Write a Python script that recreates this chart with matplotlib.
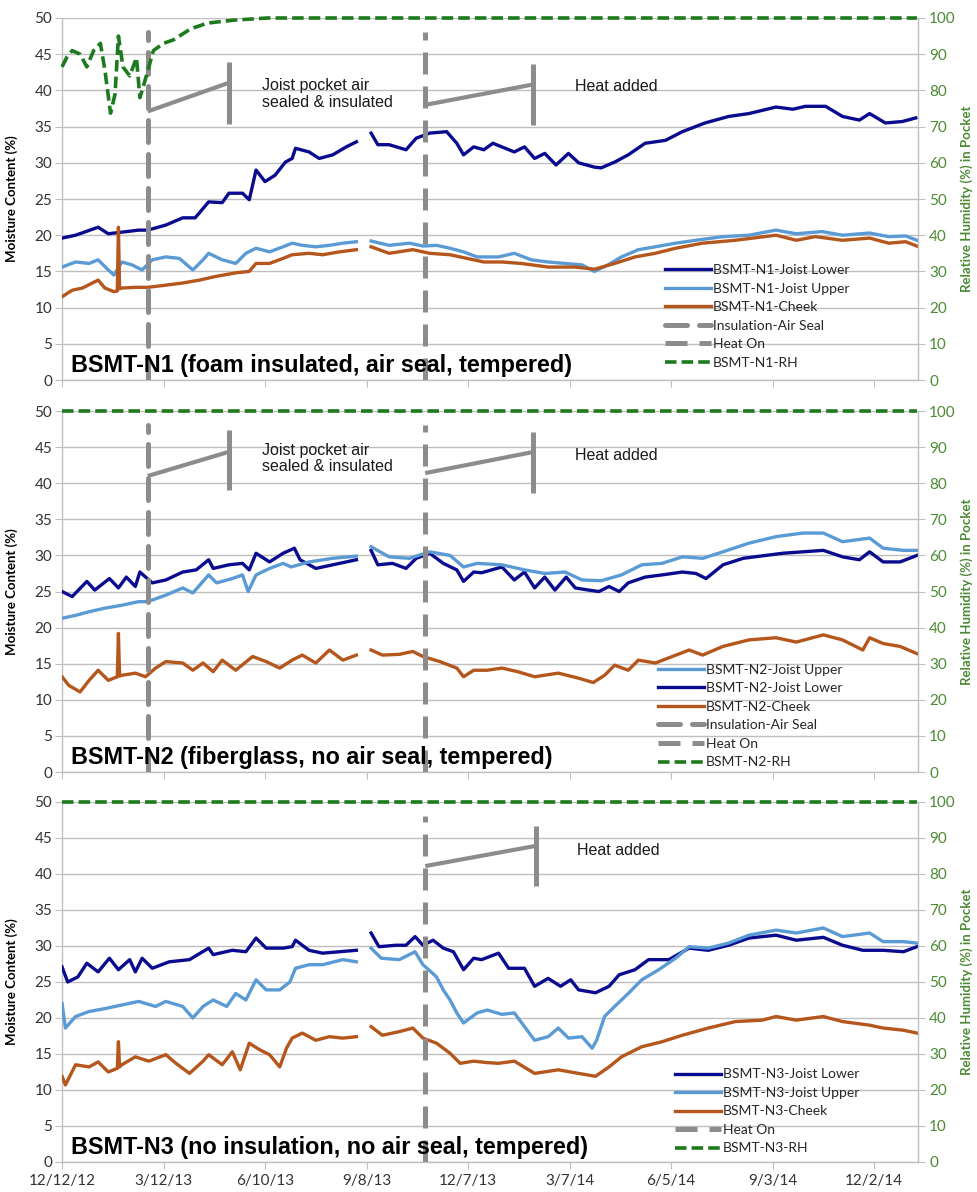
import numpy as np
import matplotlib
matplotlib.use('Agg')
import matplotlib.pyplot as plt
from matplotlib.lines import Line2D

NAN = float('nan')

# ---------------- data (day offset from 12/12/12, moisture content %) ----------------
x_tick_days = [0, 90, 180, 270, 360, 450, 540, 630, 720]
x_tick_labels = ['12/12/12', '3/12/13', '6/10/13', '9/8/13', '12/7/13',
                 '3/7/14', '6/5/14', '9/3/14', '12/2/14']
insulation_day = 76
heat_day = 322

# Panel 1: BSMT-N1
n1_lower_day = [0, 12, 32, 41, 68, 76, 92, 107, 118, 130, 142, 148, 160, 166, 172, 180, 189, 198, 204, 207,
                219, 228, 240, 252, 261, 267, 274, 280, 290, 305, 314, 326, 341, 350, 356, 365, 374, 382,
                401, 410, 419, 428, 438, 449, 458, 472, 478, 490, 502, 517, 535, 550, 570, 591, 609, 633,
                648, 659, 677, 692, 707, 716, 730, 745, 757]
n1_lower_val = [19.6, 20.0, 21.1, 20.2, 20.7, 20.7, 21.4, 22.4, 22.4, 24.6, 24.5, 25.8, 25.8, 24.9, 29.0, 27.4,
                28.3, 30.1, 30.6, 32.0, 31.5, 30.6, 31.1, 32.2, 32.9, NAN, 34.1, 32.5, 32.5, 31.8, 33.4, 34.1,
                34.3, 32.7, 31.1, 32.2, 31.8, 32.7, 31.5, 32.2, 30.6, 31.3, 29.7, 31.3, 30.0, 29.4, 29.3,
                30.1, 31.1, 32.7, 33.1, 34.3, 35.5, 36.4, 36.8, 37.7, 37.4, 37.8, 37.8, 36.4, 35.9, 36.8,
                35.5, 35.7, 36.2]
n1_upper_day = [0, 12, 24, 32, 41, 46, 53, 62, 71, 80, 92, 104, 116, 125, 130, 142, 154, 163, 172, 184, 196,
                204, 213, 225, 237, 249, 261, 267, 274, 290, 308, 320, 332, 344, 356, 368, 387, 401, 416,
                431, 446, 461, 472, 484, 496, 511, 526, 544, 562, 586, 609, 633, 651, 674, 692, 716, 733,
                748, 758]
n1_upper_val = [15.6, 16.3, 16.1, 16.6, 15.2, 14.5, 16.3, 15.9, 15.2, 16.6, 17.0, 16.8, 15.2, 16.6, 17.5, 16.6,
                16.1, 17.5, 18.2, 17.7, 18.4, 18.9, 18.6, 18.4, 18.6, 18.9, 19.1, NAN, 19.2, 18.6, 18.9, 18.5,
                18.6, 18.2, 17.7, 17.0, 17.0, 17.5, 16.6, 16.3, 16.1, 15.9, 15.0, 15.9, 17.0, 18.0, 18.4,
                18.9, 19.3, 19.8, 20.0, 20.7, 20.2, 20.5, 20.0, 20.3, 19.8, 19.9, 19.3]
n1_cheek_day = [0, 9, 18, 32, 38, 46, 49, 50, 51, 53, 65, 76, 92, 107, 122, 136, 154, 166, 172, 184, 196, 204,
                219, 231, 246, 261, 267, 274, 290, 311, 326, 344, 359, 374, 390, 407, 431, 455, 472, 490,
                508, 526, 544, 568, 597, 633, 651, 668, 692, 716, 733, 748, 758]
n1_cheek_val = [11.5, 12.4, 12.7, 13.8, 12.7, 12.2, 12.3, 21.1, 12.6, 12.7, 12.8, 12.8, 13.1, 13.4, 13.8, 14.3,
                14.8, 15.0, 16.1, 16.1, 16.8, 17.3, 17.5, 17.3, 17.7, 18.0, NAN, 18.4, 17.5, 18.0, 17.5, 17.3,
                16.8, 16.3, 16.3, 16.1, 15.6, 15.6, 15.3, 16.1, 17.0, 17.5, 18.2, 18.9, 19.3, 20.0, 19.3,
                19.8, 19.3, 19.6, 18.9, 19.1, 18.5]
n1_rh_day = [0, 4, 9, 16, 22, 28, 34, 38, 43, 47, 50, 54, 60, 66, 69, 72, 77, 81, 90, 99, 114, 129, 152, 182, 758]
n1_rh_val = [86.5, 89, 91, 90, 86.5, 91, 93, 85.6, 73.7, 79, 95, 86.5, 84, 89, 78, 81, 86.5, 91, 93, 94, 97,
             98.6, 99.4, 100, 100]

# Panel 2: BSMT-N2
n2_lower_day = [0, 9, 22, 29, 42, 50, 57, 65, 69, 80, 92, 107, 119, 130, 134, 148, 160, 166, 172, 184, 196, 206,
                211, 225, 240, 252, 261, 267, 274, 280, 293, 305, 314, 326, 338, 350, 356, 365, 372, 390,
                401, 410, 419, 428, 437, 447, 455, 467, 476, 485, 494, 502, 517, 532, 550, 562, 571, 586,
                604, 624, 639, 657, 675, 692, 707, 716, 728, 743, 758]
n2_lower_val = [25.0, 24.3, 26.4, 25.2, 26.8, 25.5, 27.0, 25.7, 27.7, 26.2, 26.6, 27.7, 28.0, 29.4, 28.2, 28.7,
                28.9, 28.0, 30.3, 29.1, 30.3, 31.0, 29.4, 28.2, 28.7, 29.1, 29.4, NAN, 30.7, 28.7, 28.9, 28.2,
                29.6, 30.3, 28.9, 28.0, 26.4, 27.7, 27.6, 28.4, 26.6, 27.7, 25.5, 27.0, 25.2, 27.0, 25.5,
                25.2, 25.0, 25.7, 25.0, 26.2, 27.0, 27.3, 27.7, 27.5, 26.8, 28.7, 29.6, 30.0, 30.3, 30.5,
                30.7, 29.8, 29.4, 30.5, 29.1, 29.1, 30.0]
n2_upper_day = [0, 12, 24, 38, 53, 68, 76, 92, 107, 116, 130, 137, 151, 160, 165, 172, 184, 196, 203, 219, 240,
                261, 267, 274, 290, 308, 326, 344, 356, 368, 390, 410, 428, 446, 461, 478, 496, 514, 532,
                550, 568, 586, 609, 633, 657, 675, 692, 716, 728, 746, 758]
n2_upper_val = [21.3, 21.7, 22.2, 22.7, 23.1, 23.6, 23.6, 24.5, 25.5, 24.8, 27.3, 26.2, 26.8, 27.3, 25.0, 27.3,
                28.2, 28.9, 28.4, 29.1, 29.6, 29.9, NAN, 31.2, 29.8, 29.6, 30.5, 30.0, 28.4, 28.9, 28.7, 28.0,
                27.5, 27.7, 26.6, 26.5, 27.3, 28.7, 28.9, 29.8, 29.6, 30.5, 31.7, 32.6, 33.1, 33.1, 31.9,
                32.4, 31.0, 30.7, 30.7]
n2_cheek_day = [0, 6, 16, 24, 32, 41, 49, 50, 51, 53, 65, 74, 83, 92, 107, 116, 125, 134, 142, 154, 169, 181,
                193, 204, 213, 225, 237, 249, 261, 267, 274, 284, 299, 311, 320, 335, 350, 356, 365, 377,
                390, 404, 419, 440, 458, 471, 481, 490, 502, 511, 526, 541, 556, 568, 586, 609, 633, 651,
                675, 692, 710, 716, 728, 743, 758]
n2_cheek_val = [13.2, 12.0, 11.1, 12.7, 14.1, 12.7, 13.2, 19.2, 13.3, 13.4, 13.7, 13.2, 14.4, 15.3, 15.1, 14.1,
                15.1, 13.9, 15.5, 14.1, 16.0, 15.3, 14.4, 15.5, 16.2, 15.1, 16.9, 15.5, 16.2, NAN, 16.9, 16.2,
                16.3, 16.7, 16.0, 15.3, 14.4, 13.2, 14.1, 14.1, 14.4, 13.9, 13.2, 13.7, 13.0, 12.4, 13.4,
                14.8, 14.1, 15.5, 15.1, 16.0, 16.9, 16.2, 17.4, 18.3, 18.6, 18.0, 19.0, 18.3, 16.9, 18.6,
                17.8, 17.4, 16.4]
n2_rh_day = [0, 758]
n2_rh_val = [100, 100]

# Panel 3: BSMT-N3
n3_lower_day = [0, 5, 14, 22, 32, 42, 50, 60, 65, 71, 80, 95, 113, 130, 134, 151, 163, 172, 181, 196, 204, 207,
                219, 231, 246, 261, 267, 274, 281, 296, 305, 313, 320, 329, 338, 347, 356, 365, 372, 387,
                396, 410, 419, 431, 442, 451, 458, 473, 485, 494, 508, 520, 538, 556, 573, 591, 609, 633,
                651, 675, 692, 710, 728, 746, 758]
n3_lower_val = [27.1, 25.0, 25.7, 27.6, 26.4, 28.3, 26.7, 28.1, 26.4, 28.3, 26.9, 27.8, 28.1, 29.7, 28.8, 29.4,
                29.2, 31.1, 29.7, 29.7, 29.9, 30.8, 29.4, 29.0, 29.2, 29.4, NAN, 31.8, 29.9, 30.1, 30.1, 31.3,
                30.1, 30.8, 29.7, 29.2, 26.7, 28.3, 28.1, 29.0, 26.9, 26.9, 24.4, 25.5, 24.4, 25.3, 23.9,
                23.5, 24.4, 26.0, 26.7, 28.1, 28.1, 29.7, 29.4, 30.1, 31.1, 31.5, 30.8, 31.2, 30.1, 29.4,
                29.4, 29.2, 29.9]
n3_upper_day = [0, 3, 12, 24, 38, 53, 68, 83, 92, 107, 116, 125, 134, 146, 154, 163, 172, 181, 193, 202, 207,
                219, 231, 249, 261, 267, 274, 283, 299, 313, 320, 325, 332, 338, 344, 350, 356, 368, 377,
                390, 401, 410, 419, 431, 440, 449, 461, 470, 474, 481, 490, 502, 514, 529, 544, 556, 573,
                591, 609, 633, 651, 675, 692, 716, 728, 746, 758]
n3_upper_val = [22.0, 18.6, 20.2, 20.9, 21.3, 21.8, 22.3, 21.6, 22.3, 21.6, 20.0, 21.6, 22.5, 21.6, 23.4, 22.5,
                25.3, 23.9, 23.9, 25.0, 26.9, 27.4, 27.4, 28.1, 27.8, NAN, 29.7, 28.3, 28.1, 29.2, 27.4, 26.7,
                25.7, 23.9, 22.5, 20.7, 19.3, 20.7, 21.1, 20.5, 20.7, 18.8, 16.9, 17.4, 18.6, 17.2, 17.4,
                15.8, 16.9, 20.2, 21.6, 23.4, 25.3, 26.7, 28.3, 29.9, 29.7, 30.4, 31.5, 32.2, 31.8, 32.5,
                31.3, 31.8, 30.6, 30.6, 30.4]
n3_cheek_day = [0, 3, 12, 24, 32, 41, 49, 50, 51, 53, 65, 77, 92, 101, 113, 125, 130, 142, 151, 158, 166, 175,
                184, 193, 199, 204, 213, 225, 237, 249, 261, 267, 274, 284, 299, 311, 320, 332, 344, 353,
                365, 377, 387, 401, 419, 440, 458, 473, 485, 496, 514, 532, 550, 573, 597, 621, 633, 651,
                675, 692, 716, 728, 746, 758]
n3_cheek_val = [11.9, 10.7, 13.5, 13.2, 13.9, 12.5, 13.0, 16.7, 13.2, 13.5, 14.6, 14.0, 14.9, 13.7, 12.3, 14.0,
                14.9, 13.5, 15.3, 12.8, 16.5, 15.6, 14.9, 13.2, 15.8, 17.2, 17.9, 16.9, 17.4, 17.2, 17.4, NAN,
                18.8, 17.6, 18.1, 18.6, 17.2, 16.5, 15.1, 13.7, 14.0, 13.8, 13.7, 14.0, 12.3, 12.8, 12.3,
                11.9, 13.2, 14.6, 16.0, 16.7, 17.6, 18.6, 19.5, 19.7, 20.2, 19.7, 20.2, 19.5, 19.0, 18.6,
                18.3, 17.9]
n3_rh_day = [0, 758]
n3_rh_val = [100, 100]

# ---------------- style ----------------
C_LOWER = '#0b0b8f'
C_UPPER = '#5b9bd5'
C_CHEEK = '#b5561c'
C_GRAY = '#8c8c8c'
C_GREEN = '#1e7a1e'
C_TICKGREEN = '#4b8a34'
C_GRID = '#bfbfbf'
TICKFONT = 'Lato'
ARIAL = 'Liberation Sans'

fig = plt.figure(figsize=(9.77, 11.92), dpi=100)
rects = [(0.0635, 0.6812, 0.8762, 0.3037),
         (0.0635, 0.3523, 0.8762, 0.3029),
         (0.0635, 0.0252, 0.8762, 0.3020)]

panels = [
    dict(name='N1', title='BSMT-N1 (foam insulated, air seal, tempered)',
         series=[('lower', n1_lower_day, n1_lower_val), ('upper', n1_upper_day, n1_upper_val),
                 ('cheek', n1_cheek_day, n1_cheek_val)],
         rh=(n1_rh_day, n1_rh_val), insul=True,
         order=['lower', 'upper', 'cheek', 'insul', 'heat', 'rh'],
         leg_anchor=(0.704, 0.320),
         ann_insul=dict(slant=((76, 37.1), (147, 41.0)), bar=(148, 35.3, 43.9), text=(177, 39.5)),
         ann_heat=dict(slant=((322, 38.0), (417, 40.8)), bar=(418, 35.2, 43.7), text=(455, 40.6))),
    dict(name='N2', title='BSMT-N2 (fiberglass, no air seal, tempered)',
         series=[('lower', n2_lower_day, n2_lower_val), ('upper', n2_upper_day, n2_upper_val),
                 ('cheek', n2_cheek_day, n2_cheek_val)],
         rh=(n2_rh_day, n2_rh_val), insul=True,
         order=['upper', 'lower', 'cheek', 'insul', 'heat', 'rh'],
         leg_anchor=(0.696, 0.300),
         ann_insul=dict(slant=((76, 41.0), (147, 44.3)), bar=(148, 39.1, 47.4), text=(177, 43.4)),
         ann_heat=dict(slant=((322, 41.4), (417, 44.3)), bar=(418, 38.6, 47.1), text=(455, 43.9))),
    dict(name='N3', title='BSMT-N3 (no insulation, no air seal, tempered)',
         series=[('lower', n3_lower_day, n3_lower_val), ('upper', n3_upper_day, n3_upper_val),
                 ('cheek', n3_cheek_day, n3_cheek_val)],
         rh=(n3_rh_day, n3_rh_val), insul=False,
         order=['lower', 'upper', 'cheek', 'heat', 'rh'],
         leg_anchor=(0.716, 0.260),
         ann_insul=None,
         ann_heat=dict(slant=((322, 41.1), (420, 43.9)), bar=(420, 38.3, 46.7), text=(457, 43.3))),
]

colors = {'lower': C_LOWER, 'upper': C_UPPER, 'cheek': C_CHEEK}
suffix = {'lower': 'Joist Lower', 'upper': 'Joist Upper', 'cheek': 'Cheek'}

for i, (p, rect) in enumerate(zip(panels, rects)):
    ax = fig.add_axes(rect)
    ax.set_xlim(0, 759)
    ax.set_ylim(0, 50)
    ax.set_yticks(range(0, 51, 5))
    ax.grid(axis='y', color=C_GRID, lw=1.0, zorder=0)
    ax.set_axisbelow(True)
    for s in ['top', 'right']:
        ax.spines[s].set_visible(False)
    for s in ['left', 'bottom']:
        ax.spines[s].set_color(C_GRID)
        ax.spines[s].set_linewidth(1.0)
    ax.tick_params(axis='y', length=5, color=C_GRID, labelsize=11, pad=2, labelcolor='#333333')
    ax.tick_params(axis='x', length=5, color=C_GRID, labelsize=11, pad=4, labelcolor='#333333')
    ax.set_xticks(x_tick_days)
    if i == 2:
        ax.set_xticklabels(x_tick_labels, family=TICKFONT)
    else:
        ax.set_xticklabels([])
    for lab in ax.get_yticklabels():
        lab.set_family(TICKFONT)

    handles = {}
    for key, d, v in p['series']:
        ln, = ax.plot(d, v, color=colors[key], lw=2.4, solid_joinstyle='round', zorder=3,
                      label='BSMT-%s-%s' % (p['name'], suffix[key]))
        handles[key] = ln

    dash = (4.4, 2.4)
    if p['insul']:
        ln, = ax.plot([insulation_day, insulation_day], [0, 48], color=C_GRAY, lw=3.6,
                      dashes=dash, dash_capstyle='round', zorder=4, label='Insulation-Air Seal')
        handles['insul'] = ln
    ln, = ax.plot([heat_day, heat_day], [0, 48], color=C_GRAY, lw=3.6, dashes=dash,
                  dash_capstyle='butt', zorder=4, label='Heat On')
    handles['heat'] = ln

    # annotations (gray leader lines)
    anns = [(p['ann_insul'], 'Joist pocket air\nsealed & insulated'), (p['ann_heat'], 'Heat added')]
    for ann, txt in anns:
        if ann is None:
            continue
        (x0, y0), (x1, y1) = ann['slant']
        ax.plot([x0, x1], [y0, y1], color=C_GRAY, lw=3.0, solid_capstyle='butt', zorder=4)
        bx, by0, by1 = ann['bar']
        ax.plot([bx, bx], [by0, by1], color=C_GRAY, lw=3.6, solid_capstyle='butt', zorder=4)
        tx, ty = ann['text']
        ax.text(tx, ty, txt, fontsize=11.5, family=ARIAL, color='#1a1a1a', va='center',
                ha='left', linespacing=1.1)

    ax.text(0.011, 0.041, p['title'], transform=ax.transAxes, fontsize=16.8, fontweight='bold',
            family=ARIAL, va='center', ha='left', zorder=6)

    ax.set_ylabel('Moisture Content (%)', fontsize=9.5, fontweight='bold', family=TICKFONT)
    ax.yaxis.set_label_coords(-0.052, 0.5)

    ax2 = ax.twinx()
    ax2.set_ylim(0, 100)
    ax2.set_yticks(range(0, 101, 10))
    for s in ['top', 'left', 'bottom']:
        ax2.spines[s].set_visible(False)
    ax2.spines['right'].set_color(C_GRID)
    ax2.spines['right'].set_linewidth(1.0)
    ax2.tick_params(axis='y', length=5, color=C_GRID, labelsize=11, pad=3, labelcolor=C_TICKGREEN)
    for lab in ax2.get_yticklabels():
        lab.set_family(TICKFONT)
    rd, rv = p['rh']
    ln, = ax2.plot(rd, rv, color=C_GREEN, lw=2.6, dashes=(3.2, 1.4), clip_on=False, zorder=3,
                   label='BSMT-%s-RH' % p['name'])
    handles['rh'] = ln
    ax2.set_ylabel('Relative Humidity (%) in Pocket', fontsize=9.5, fontweight='bold',
                   family=TICKFONT, color=C_TICKGREEN)
    ax2.yaxis.set_label_coords(1.049, 0.5)

    hl = [handles[k] for k in p['order']]
    leg = ax2.legend(hl, [h.get_label() for h in hl], loc='upper left', bbox_to_anchor=p['leg_anchor'],
                     frameon=False, borderpad=0, borderaxespad=0, handlelength=3.3, handletextpad=0.15,
                     labelspacing=0.47, prop=dict(family=TICKFONT, size=10))
    for t in leg.get_texts():
        t.set_color('#262626')

fig.savefig('out.png', dpi=100)
